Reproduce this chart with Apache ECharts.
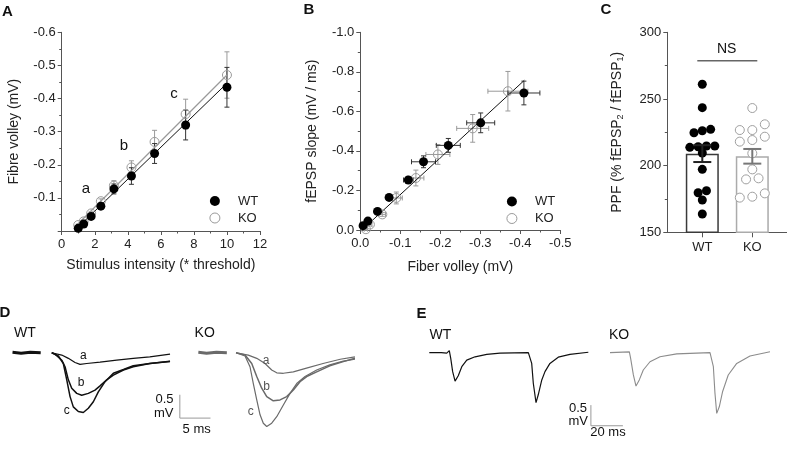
<!DOCTYPE html>
<html>
<head>
<meta charset="utf-8">
<script src="https://cdn.jsdelivr.net/npm/echarts@6/dist/echarts.min.js"></script>
<style>html,body{margin:0;padding:0;background:#fff}#c{width:787px;height:452px}</style>
</head>
<body>
<div id="c"></div>
<script>
// ---------- DATA ----------
// Panel A: fibre volley vs stimulus intensity
const aStim   = [1, 1.33, 1.78, 2.37, 3.16, 4.22, 5.62, 7.5, 10];
const aWT     = [-0.008, -0.021, -0.044, -0.075, -0.127, -0.166, -0.234, -0.320, -0.434];
const aWTerr  = [0.003, 0.004, 0.005, 0.007, 0.015, 0.025, 0.03, 0.045, 0.06];
const aKO     = [-0.018, -0.029, -0.053, -0.090, -0.137, -0.192, -0.269, -0.353, -0.471];
const aKOerr  = [0.003, 0.004, 0.005, 0.007, 0.015, 0.02, 0.035, 0.045, 0.07];
const aFitWT  = [[0.8, -0.002], [10, -0.446]];
const aFitKO  = [[0.8, -0.012], [10, -0.471]];
// Panel B: fEPSP slope vs fiber volley
const bWTx    = [-0.007, -0.019, -0.043, -0.072, -0.120, -0.158, -0.220, -0.301, -0.409];
const bWTy    = [-0.022, -0.045, -0.094, -0.165, -0.253, -0.345, -0.428, -0.542, -0.693];
const bWTxe   = [0.003, 0.004, 0.005, 0.006, 0.012, 0.03, 0.03, 0.035, 0.04];
const bWTye   = [0.005, 0.006, 0.008, 0.01, 0.015, 0.03, 0.035, 0.05, 0.06];
const bKOx    = [-0.014, -0.024, -0.055, -0.090, -0.139, -0.194, -0.281, -0.369];
const bKOy    = [-0.004, -0.028, -0.079, -0.162, -0.263, -0.382, -0.514, -0.702];
const bKOxe   = [0.004, 0.005, 0.008, 0.015, 0.02, 0.03, 0.04, 0.05];
const bKOye   = [0.005, 0.008, 0.01, 0.03, 0.04, 0.05, 0.07, 0.1];
const bFit    = [[-0.004, 0], [-0.41, -0.757]];
// Panel C: PPF
const cCats   = ['WT', 'KO'];
const cMeans  = [209, 207];
const cSem    = [6.3, 5.5];
const cWT     = [261, 243.5, 227.2, 226.2, 224.7, 214.7, 214.7, 214.2, 213.7, 209.5, 197.2, 181.2, 179.7, 174.2, 163.7];
const cKO     = [243.2, 231, 226.7, 226.7, 221.7, 219.2, 218, 209.2, 197.2, 190.5, 189.7, 179.2, 176.7, 176];
const cNS     = 278.7;
// Panel D: fEPSP traces (ms, mV)
const dStubWT = [[-6.4, 0.01], [-5, -0.01], [-3.5, 0.01], [-1.8, 0]];
const dWTa = [[0,0],[0.26,-0.03],[1.63,-0.05],[2.71,-0.12],[3.8,-0.21],[4.62,-0.25],[5.71,-0.23],[7.88,-0.2],[10.6,-0.16],[13.3,-0.12],[16,-0.09],[19.3,-0.03]];
const dWTb = [[0,0],[0.54,-0.03],[1.63,-0.16],[2.17,-0.3],[2.71,-0.58],[3.26,-0.76],[4.08,-0.87],[4.89,-0.91],[5.97,-0.87],[7.06,-0.8],[7.88,-0.71],[8.97,-0.58],[10.05,-0.48],[11.7,-0.37],[13.3,-0.3],[16,-0.23],[19.3,-0.18]];
const dWTc = [[0,0],[1.08,-0.07],[1.89,-0.23],[2.45,-0.58],[2.99,-0.94],[3.52,-1.16],[4.34,-1.26],[5.15,-1.28],[5.97,-1.19],[6.79,-1.05],[7.6,-0.84],[8.7,-0.62],[10.05,-0.44],[11.7,-0.36],[13.3,-0.28],[16,-0.23],[19.3,-0.19]];
const dStubKO = [[-6.15, 0.01], [-4.8, -0.01], [-3.2, 0.01], [-1.5, 0]];
const dKOa = [[0,0],[0.1,0],[2,-0.05],[3.38,-0.12],[4.73,-0.23],[5.82,-0.37],[6.64,-0.43],[7.72,-0.44],[9.35,-0.41],[11.5,-0.33],[14.2,-0.23],[17,-0.14],[19.4,-0.09]];
const dKOb = [[0,0],[1.47,-0.05],[2.56,-0.23],[3.38,-0.51],[4.19,-0.76],[5.01,-0.94],[6.08,-1.03],[7.18,-1.01],[8.27,-0.94],[9.35,-0.8],[10.44,-0.62],[11.53,-0.51],[13.16,-0.41],[15.3,-0.28],[17.5,-0.19],[19.4,-0.12]];
const dKOc = [[0,0],[1.47,-0.07],[2.28,-0.3],[2.82,-0.66],[3.38,-1.01],[3.92,-1.33],[4.45,-1.51],[5.01,-1.58],[5.82,-1.51],[6.64,-1.37],[7.72,-1.12],[8.81,-0.87],[9.9,-0.66],[11.26,-0.51],[13.16,-0.37],[15.3,-0.26],[17.5,-0.18],[19.4,-0.14]];
// Panel E: paired-pulse traces (ms, mV)
const eWT = [[0,0],[7.5,0],[10.9,-0.01],[12.5,0.05],[13.4,-0.14],[14.6,-0.46],[16.1,-0.69],[18.1,-0.56],[20.3,-0.34],[23.4,-0.18],[28.6,-0.1],[35.9,-0.04],[44.2,-0.01],[61.9,0],[62.9,0.04],[64,-0.26],[65,-0.74],[66.7,-1.21],[68.1,-1.02],[70.3,-0.66],[72.3,-0.46],[75.4,-0.26],[80.6,-0.11],[87.9,-0.04],[99.4,0.01]];
const eKO = [[0,0],[12.1,0.02],[12.9,-0.14],[14.6,-0.54],[16.25,-0.81],[18.3,-0.66],[20.8,-0.42],[25,-0.22],[31.25,-0.1],[41.7,-0.03],[62.5,0],[63.6,0.02],[64.6,-0.34],[65.6,-0.98],[66.7,-1.47],[68.3,-1.31],[70.4,-0.94],[73.9,-0.54],[79.2,-0.26],[87.5,-0.08],[100,0.02]];
// scale bars
const dScaleMV = 0.5, dScaleMS = 5;
const eScaleMV = 0.5, eScaleMS = 20;

// ---------- HELPERS ----------
const FONT = '"Liberation Sans", Arial, Helvetica, sans-serif';
const AX = '#555';
function axis(extra) {
  const base = {
    type: 'value',
    nameLocation: 'middle',
    axisLine: { show: true, onZero: false, lineStyle: { color: AX, width: 1 } },
    axisTick: { show: true, length: 4, lineStyle: { color: AX } },
    minorTick: { show: true, splitNumber: 2, length: 2.5, lineStyle: { color: AX } },
    axisLabel: { color: '#222', fontSize: 13, fontFamily: FONT, margin: 6 },
    splitLine: { show: false },
    nameTextStyle: { color: '#222', fontSize: 14, fontFamily: FONT }
  };
  for (const k in extra) {
    if (base[k] && typeof base[k] === 'object' && !Array.isArray(base[k]) && typeof extra[k] === 'object') {
      base[k] = Object.assign({}, base[k], extra[k]);
    } else base[k] = extra[k];
  }
  return base;
}
function hidden(g, min, max) { return { type: 'value', gridIndex: g, min: min, max: max, show: false }; }
function errSeries(xi, yi, data, color, cap, lw, z) {
  return {
    type: 'custom', xAxisIndex: xi, yAxisIndex: yi, z: z || 1, silent: true,
    encode: { x: 0, y: 1 },
    data: data,
    renderItem: function (params, api) {
      const x = api.value(0), y = api.value(1), ex = api.value(2), ey = api.value(3);
      const col = Array.isArray(color) ? color[params.dataIndex] : color;
      const st = { stroke: col, lineWidth: lw, fill: 'none' };
      const ch = [];
      if (ey) {
        const p1 = api.coord([x, y - ey]), p2 = api.coord([x, y + ey]);
        ch.push({ type: 'line', shape: { x1: p1[0], y1: p1[1], x2: p2[0], y2: p2[1] }, style: st });
        ch.push({ type: 'line', shape: { x1: p1[0] - cap, y1: p1[1], x2: p1[0] + cap, y2: p1[1] }, style: st });
        ch.push({ type: 'line', shape: { x1: p2[0] - cap, y1: p2[1], x2: p2[0] + cap, y2: p2[1] }, style: st });
      }
      if (ex) {
        const p1 = api.coord([x - ex, y]), p2 = api.coord([x + ex, y]);
        ch.push({ type: 'line', shape: { x1: p1[0], y1: p1[1], x2: p2[0], y2: p2[1] }, style: st });
        ch.push({ type: 'line', shape: { x1: p1[0], y1: p1[1] - cap, x2: p1[0], y2: p1[1] + cap }, style: st });
        ch.push({ type: 'line', shape: { x1: p2[0], y1: p2[1] - cap, x2: p2[0], y2: p2[1] + cap }, style: st });
      }
      return { type: 'group', children: ch };
    }
  };
}
// beeswarm-like row layout (GraphPad style): points with close values share a row, centred
function swarm(vals, idx, tol, spreadPx) {
  const order = vals.map((v, i) => i).sort((a, b) => vals[b] - vals[a]);
  const rows = [];
  order.forEach(i => {
    const r = rows[rows.length - 1];
    if (r && vals[r[0]] - vals[i] <= tol) r.push(i); else rows.push([i]);
  });
  const maxN = Math.max.apply(null, rows.map(r => r.length));
  const step = maxN > 1 ? spreadPx / (maxN - 1) : 0;
  const off = [];
  rows.forEach(r => {
    r.sort((a, b) => vals[a] - vals[b]);
    r.forEach((i, k) => { off[i] = (k - (r.length - 1) / 2) * step; });
  });
  return vals.map((v, i) => ({ value: [idx, v], symbolOffset: [off[i], 0] }));
}
function line(xi, yi, data, color, w, z) {
  return { type: 'line', xAxisIndex: xi, yAxisIndex: yi, data: data, symbol: 'none', silent: true,
           z: z || 2, lineStyle: { color: color, width: w } };
}
function txt(text, x, y, size, opts) {
  opts = opts || {};
  return { type: 'text', x: x, y: y, silent: true, z: 100,
    style: { text: text, fontSize: size, fontFamily: FONT, fontWeight: opts.bold ? 'bold' : 'normal',
             fill: opts.color || '#111', align: opts.align || 'center', verticalAlign: 'middle' } };
}
const fmt1 = v => (Math.abs(v) < 1e-9 ? 0 : v).toFixed(1);
const wtStyle = { color: '#000', opacity: 1 };
const koStyle = { color: 'rgba(255,255,255,0)', borderColor: '#9a9a9a', borderWidth: 1, opacity: 1 };

// ---------- OPTION ----------
const gridBase = { containLabel: false, outerBoundsMode: 'none' };
const legendBase = { orient: 'vertical', itemWidth: 36, itemHeight: 10, itemGap: 4, selectedMode: false,
  textStyle: { fontSize: 13, fontFamily: FONT, color: '#222' },
  data: [{ name: 'WT', itemStyle: { color: '#000', opacity: 1 } },
         { name: 'KO', itemStyle: { color: '#fff', borderColor: '#9a9a9a', borderWidth: 1, opacity: 1 } }] };
const option = {
  animation: false,
  backgroundColor: '#fff',
  textStyle: { fontFamily: FONT },
  grid: [
    Object.assign({ left: 61.7, top: 32.3, width: 198.3, height: 198.7 }, gridBase),
    Object.assign({ left: 360.3, top: 32.3, width: 200, height: 197.7 }, gridBase),
    Object.assign({ left: 667.3, top: 32.3, width: 120, height: 200 }, gridBase),
    Object.assign({ left: 11.9, top: 343.4, width: 199.2, height: 88.7 }, gridBase),
    Object.assign({ left: 196.2, top: 343.4, width: 162.4, height: 88.7 }, gridBase),
    Object.assign({ left: 429.3, top: 344.4, width: 195.2, height: 82.6 }, gridBase),
    Object.assign({ left: 610, top: 344.4, width: 176, height: 82.6 }, gridBase)
  ],
  xAxis: [
    axis({ gridIndex: 0, min: 0, max: 12, interval: 2, name: 'Stimulus intensity (* threshold)', nameGap: 27,
           axisLabel: { margin: 7 } }),
    axis({ gridIndex: 1, min: -0.5, max: 0, interval: 0.1, inverse: true, name: 'Fiber volley (mV)', nameGap: 30,
           axisLabel: { margin: 7, formatter: fmt1 } }),
    axis({ gridIndex: 2, min: -0.7, max: 1.7, name: '', minorTick: { show: false },
           axisTick: { customValues: [0, 1], length: 5 },
           axisLabel: { customValues: [0, 1], margin: 9, formatter: v => cCats[Math.round(v)] } }),
    hidden(3, -6.5, 26), hidden(4, -6.5, 20), hidden(5, 0, 122), hidden(6, 0, 110)
  ],
  yAxis: [
    axis({ gridIndex: 0, min: -0.6, max: 0, interval: 0.1, inverse: true, name: 'Fibre volley (mV)', nameGap: 41,
           axisLabel: { formatter: v => Math.abs(v) < 1e-9 ? '' : v.toFixed(1) } }),
    axis({ gridIndex: 1, min: -1.0, max: 0, interval: 0.2, inverse: true, name: 'fEPSP slope (mV / ms)', nameGap: 41,
           axisLabel: { formatter: fmt1 } }),
    axis({ gridIndex: 2, min: 150, max: 300, interval: 50, nameGap: 42,
           name: '{n|PPF (% fEPSP}{s|2}{n| / fEPSP}{s|1}{n|)}',
           nameTextStyle: { rich: {
             n: { fontSize: 14, fontFamily: FONT, color: '#222', lineHeight: 16 },
             s: { fontSize: 9, fontFamily: FONT, color: '#222', verticalAlign: 'bottom', padding: [5, 0, 0, 0], lineHeight: 10 }
           } } }),
    hidden(3, -1.7, 0.2), hidden(4, -1.7, 0.2), hidden(5, -1.8, 0.2), hidden(6, -1.8, 0.2)
  ],
  legend: [
    Object.assign({ left: 204.4, top: 189.5 }, legendBase),
    Object.assign({ left: 501.4, top: 190 }, legendBase)
  ],
  series: [
    // ----- A -----
    errSeries(0, 0, aStim.map((x, i) => [x, aKO[i], 0, aKOerr[i]]), '#9a9a9a', 2.5, 1, 1),
    errSeries(0, 0, aStim.map((x, i) => [x, aWT[i], 0, aWTerr[i]]), '#333', 2.5, 1, 1),
    line(0, 0, aFitKO, '#9a9a9a', 1.2, 2),
    line(0, 0, aFitWT, '#111', 1, 2),
    { name: 'KO', type: 'scatter', xAxisIndex: 0, yAxisIndex: 0, symbolSize: 9, z: 3,
      itemStyle: koStyle, data: aStim.map((x, i) => [x, aKO[i]]) },
    { name: 'WT', type: 'scatter', xAxisIndex: 0, yAxisIndex: 0, symbolSize: 9, z: 4,
      itemStyle: wtStyle, data: aStim.map((x, i) => [x, aWT[i]]) },
    // ----- B -----
    errSeries(1, 1, bKOx.map((x, i) => [x, bKOy[i], bKOxe[i], bKOye[i]]), '#9a9a9a', 2.5, 1, 1),
    errSeries(1, 1, bWTx.map((x, i) => [x, bWTy[i], bWTxe[i], bWTye[i]]), '#333', 2.5, 1, 1),
    line(1, 1, bFit, '#111', 1, 2),
    { name: 'KO', type: 'scatter', xAxisIndex: 1, yAxisIndex: 1, symbolSize: 9, z: 3,
      itemStyle: koStyle, data: bKOx.map((x, i) => [x, bKOy[i]]) },
    { name: 'WT', type: 'scatter', xAxisIndex: 1, yAxisIndex: 1, symbolSize: 9, z: 4,
      itemStyle: wtStyle, data: bWTx.map((x, i) => [x, bWTy[i]]) },
    // ----- C -----
    { type: 'bar', xAxisIndex: 2, yAxisIndex: 2, barWidth: 33, z: 1, silent: true,
      data: [
        { value: [0, cMeans[0]], itemStyle: { color: '#fff', borderColor: '#3a3a3a', borderWidth: 1.5 } },
        { value: [1, cMeans[1]], itemStyle: { color: '#fff', borderColor: '#ababab', borderWidth: 1.5 } }
      ] },
    { type: 'scatter', xAxisIndex: 2, yAxisIndex: 2, symbolSize: 9, z: 3, silent: true,
      itemStyle: { color: '#000', opacity: 1 }, data: swarm(cWT, 0, 4.5, 25) },
    { type: 'scatter', xAxisIndex: 2, yAxisIndex: 2, symbolSize: 9, z: 3, silent: true,
      itemStyle: { color: '#fff', borderColor: '#a0a0a0', borderWidth: 1, opacity: 1 }, data: swarm(cKO, 1, 4.5, 25) },
    errSeries(2, 2, cMeans.map((m, i) => [i, m, 0, cSem[i]]), ['#222', '#777'], 9, 2, 5),
    line(2, 2, [[-0.1, cNS], [1.1, cNS]], '#666', 1.5, 2),
    // ----- D -----
    line(3, 3, dStubWT, '#111', 3, 2),
    line(3, 3, dWTa, '#111', 1.2, 2),
    line(3, 3, dWTb, '#111', 1.5, 2),
    line(3, 3, dWTc, '#111', 1.5, 2),
    line(3, 3, [[20.9, -1.4 + dScaleMV], [20.9, -1.4], [20.9 + dScaleMS, -1.4]], '#999', 1, 2),
    line(4, 4, dStubKO, '#6a6a6a', 3, 2),
    line(4, 4, dKOa, '#6a6a6a', 1.2, 2),
    line(4, 4, dKOb, '#6a6a6a', 1.5, 2),
    line(4, 4, dKOc, '#6a6a6a', 1.2, 2),
    // ----- E -----
    line(5, 5, eWT, '#111', 1.2, 2),
    line(5, 5, [[101, -1.77 + eScaleMV], [101, -1.77], [101 + eScaleMS, -1.77]], '#999', 1, 2),
    line(6, 6, eKO, '#8c8c8c', 1.1, 2)
  ],
  graphic: [
    txt('A', 7.5, 11.7, 15, { bold: true }),
    txt('B', 309, 9.5, 15, { bold: true }),
    txt('C', 606, 9.5, 15, { bold: true }),
    txt('D', 5, 313, 15, { bold: true }),
    txt('E', 421.5, 313.5, 15, { bold: true }),
    txt('a', 86, 189, 15), txt('b', 124, 146, 15), txt('c', 174, 94, 15),
    txt('NS', 726.7, 49.3, 14),
    txt('WT', 25, 333, 14), txt('KO', 204.7, 333, 14),
    txt('WT', 440.5, 335.5, 14), txt('KO', 619, 335.5, 14),
    txt('a', 83.3, 356, 12), txt('b', 81, 382.3, 12), txt('c', 66.7, 410.7, 12),
    txt('a', 266, 360.7, 12, { color: '#555' }), txt('b', 266.7, 386.7, 12, { color: '#555' }), txt('c', 250.7, 411.7, 12, { color: '#555' }),
    txt('0.5', 173.5, 399.5, 13, { align: 'right' }), txt('mV', 173.5, 413.5, 13, { align: 'right' }),
    txt('5 ms', 196.7, 429, 13),
    txt('0.5', 587, 408.7, 13, { align: 'right' }), txt('mV', 588, 421.7, 13, { align: 'right' }),
    txt('20 ms', 608, 432.5, 13)
  ]
};
const chart = echarts.init(document.getElementById('c'), null, { renderer: 'canvas' });
chart.setOption(option);
</script>
</body>
</html>
